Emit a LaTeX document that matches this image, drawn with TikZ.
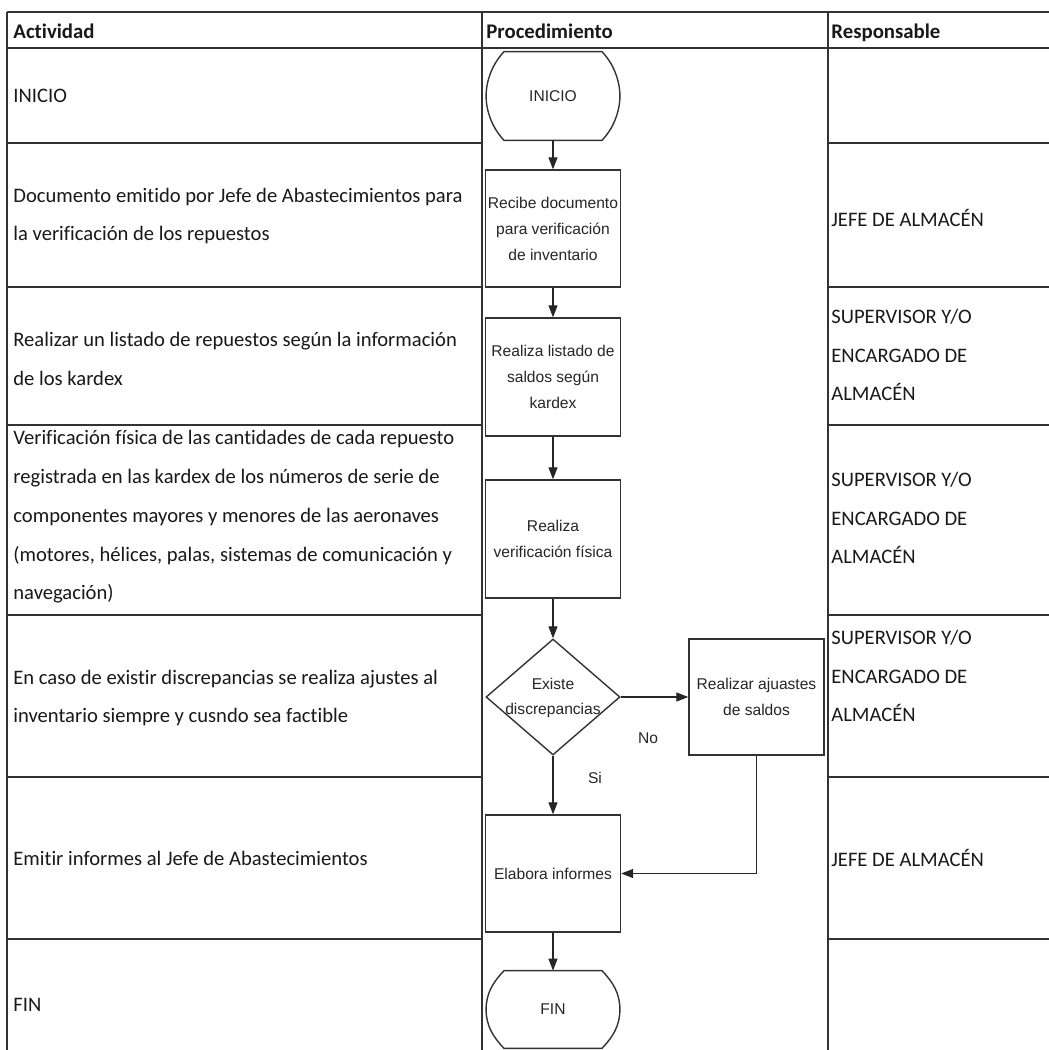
\documentclass[tikz,border=0pt]{standalone}
\usepackage{fontspec}
\setmainfont{Carlito}[Ligatures={NoCommon}]
\newfontfamily\arialfont{Liberation Sans}
\usetikzlibrary{shapes.geometric,arrows.meta}

\tikzset{
    tabla/.style={draw=black!80, line width=1pt},
    flecha/.style={draw=black!85, line width=0.6pt, -{Triangle[length=6pt,width=4.5pt]}},
    contorno/.style={draw=black!80, line width=0.7pt},
    celda/.style={anchor=west, align=left, inner sep=0pt, text=black!90,
                  font=\fontsize{10.3}{19.4}\selectfont},
    titulo/.style={anchor=base west, inner sep=0pt, text=black!90,
                   font=\bfseries\fontsize{10.4}{12}\selectfont},
    proceso/.style={rectangle, draw=black!80, line width=0.7pt, fill=white,
                    minimum width=67.5pt, inner sep=0pt, align=center, text=black!85,
                    font=\arialfont\fontsize{7.8}{13}\selectfont},
    decision/.style={diamond, draw=black!80, line width=0.7pt, fill=white,
                     minimum width=67pt, minimum height=58pt, inner sep=0pt, text=black!85,
                     font=\arialfont\fontsize{7.8}{12.5}\selectfont},
    terminal/.style={rectangle, minimum width=66.5pt, inner sep=0pt, text=black!85,
                     font=\arialfont\fontsize{7.8}{13}\selectfont},
    etiqueta/.style={inner sep=0pt, text=black!85, font=\arialfont\fontsize{7.8}{13}\selectfont},
}

\begin{document}
\begin{tikzpicture}[x=0.5pt, y=-0.5pt]
                    \fill[white] (0,0) rectangle (1049,1050);
                    \useasboundingbox (0,0) rectangle (1049,1050);

                    % tabla
                    \draw[tabla] (7,12) -- (1049,12);
                    \draw[tabla] (7,48) -- (1049,48);
                    \draw[tabla] (7,12) -- (7,1050);
                    \draw[tabla] (482,12) -- (482,1050);
                    \draw[tabla] (828,12) -- (828,1050);
                    \foreach \y in {143,287,425,615,777,939} {
                        \draw[tabla] (7,\y) -- (482,\y);
                        \draw[tabla] (828,\y) -- (1049,\y);
                    }

                    \node[titulo] (tact) at (13,38) {Actividad};
                    \node[titulo] (tproc) at (486,38) {Procedimiento};
                    \node[titulo] (tresp) at (831,38) {Responsable};

                    % actividades
                    \node[celda] (a1) at (13,96) {INICIO};
                    \node[celda] (a2) at (13,216) {Documento emitido por Jefe de Abastecimientos para\\la verificación de los repuestos};
                    \node[celda] (a3) at (13,359) {Realizar un listado de repuestos según la información\\de los kardex};
                    \node[celda] (a4) at (13,517) {Verificación física de las cantidades de cada repuesto\\registrada en las kardex de los números de serie de\\componentes mayores y menores de las aeronaves\\(motores, hélices, palas, sistemas de comunicación y\\navegación)};
                    \node[celda] (a5) at (13,698) {En caso de existir discrepancias se realiza ajustes al\\inventario siempre y cusndo sea factible};
                    \node[celda] (a6) at (13,858) {Emitir informes al Jefe de Abastecimientos};
                    \node[celda] (a7) at (13,1005) {FIN};

                    % responsables
                    \node[celda] (r2) at (831,218) {JEFE DE ALMACÉN};
                    \node[celda] (r3) at (831,355) {SUPERVISOR Y/O\\ENCARGADO DE\\ALMACÉN};
                    \node[celda] (r4) at (831,518) {SUPERVISOR Y/O\\ENCARGADO DE\\ALMACÉN};
                    \node[celda] (r5) at (831,676) {SUPERVISOR Y/O\\ENCARGADO DE\\ALMACÉN};
                    \node[celda] (r6) at (831,858) {JEFE DE ALMACÉN};

                    % procedimiento
                    \node[terminal, minimum height=44pt] (inicio) at (553,96) {INICIO};
                    \node[proceso, minimum height=58.5pt] (recibe) at (553,228.5) {Recibe documento\\para verificación\\de inventario};
                    \node[proceso, minimum height=59pt] (listado) at (553,377) {Realiza listado de\\saldos según\\kardex};
                    \node[proceso, minimum height=59pt] (fisica) at (553,539) {Realiza\\verificación física};
                    \node[decision] (existe) at (553,697) {\makebox[0pt]{\begin{tabular}{@{}c@{}}Existe\\discrepancias\end{tabular}}};
                    \node[proceso, minimum height=58pt] (ajustes) at (756.5,697) {Realizar ajuastes\\de saldos};
                    \node[proceso, minimum height=58.5pt] (informes) at (553,873.5) {Elabora informes};
                    \node[terminal, minimum height=38.5pt] (fin) at (553,1009.5) {FIN};

                    % contorno de inicio y fin
                    \foreach \t in {inicio,fin} {
                        \draw[contorno] ([xshift=9pt]\t.north west) -- ([xshift=-9pt]\t.north east)
                            .. controls ([xshift=-3.4pt,yshift=-5.8pt]\t.north east) and ([yshift=8pt]\t.east) .. (\t.east)
                            .. controls ([yshift=-8pt]\t.east) and ([xshift=-3.4pt,yshift=5.8pt]\t.south east) .. ([xshift=-9pt]\t.south east)
                            -- ([xshift=9pt]\t.south west)
                            .. controls ([xshift=3.4pt,yshift=5.8pt]\t.south west) and ([yshift=-8pt]\t.west) .. (\t.west)
                            .. controls ([yshift=8pt]\t.west) and ([xshift=3.4pt,yshift=-5.8pt]\t.north west) .. cycle;
                    }

                    \node[etiqueta] (no) at (648,738) {No};
                    \node[etiqueta] (si) at (595,778) {Si};

                    \draw[flecha] (inicio) -- (recibe);
                    \draw[flecha] (recibe) -- (listado);
                    \draw[flecha] (listado) -- (fisica);
                    \draw[flecha] (fisica) -- (existe);
                    \draw[flecha] (existe) -- (ajustes);
                    \draw[flecha] (existe) -- (informes);
                    \draw[flecha] (ajustes.south) |- (informes.east);
                    \draw[flecha] (informes) -- (fin);

\end{tikzpicture}
\end{document}
